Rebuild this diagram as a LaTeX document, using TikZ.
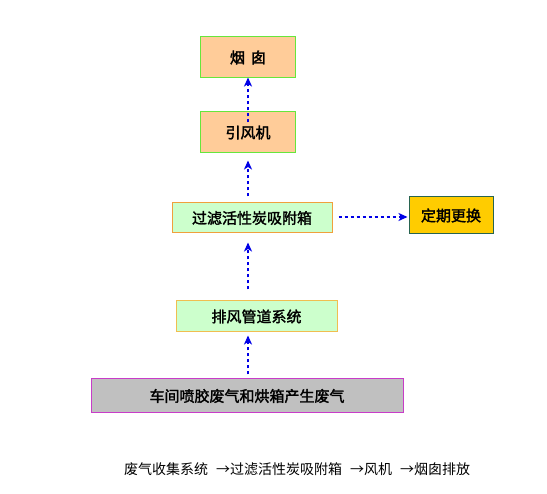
\documentclass[tikz,border=0pt]{standalone}
\usepackage{fontspec}
\newfontfamily\cjk{Noto Sans CJK SC}[AutoFakeBold=2]
\usetikzlibrary{arrows.meta,calc}
\definecolor{peach}{RGB}{255,204,153}
\definecolor{lgreen}{RGB}{204,255,204}
\definecolor{gold}{RGB}{255,204,0}
\definecolor{lgray}{RGB}{192,192,192}
\definecolor{bgreen}{RGB}{102,230,60}
\definecolor{borange}{RGB}{240,160,60}
\definecolor{byellow}{RGB}{240,190,80}
\definecolor{bteal}{RGB}{40,100,80}
\definecolor{bmag}{RGB}{200,60,200}
\definecolor{arrblue}{RGB}{0,0,230}
\tikzset{
  box/.style={draw, line width=1pt, inner sep=0pt, font=\cjk\bfseries\fontsize{15}{15}\selectfont, text=black},
  arr/.style={draw=arrblue, line width=2.8pt, dash pattern=on 3pt off 3pt, -{Stealth[length=9pt,width=8pt,inset=2.5pt]}},
}
\begin{document}
\begin{tikzpicture}[x=1pt,y=-1pt]
\useasboundingbox (0,0) rectangle (547,494);
\node[box, fill=peach, draw=bgreen, minimum width=95pt, minimum height=41pt] (b1) at (248,57.5) {烟\hspace{6pt}囱};
\node[box, fill=peach, draw=bgreen, minimum width=95pt, minimum height=41pt] (b2) at (248,132.5) {引风机};
\node[box, fill=lgreen, draw=borange, minimum width=160pt, minimum height=30pt] (b3) at (252,218) {过滤活性炭吸附箱};
\node[box, fill=gold, draw=bteal, minimum width=84pt, minimum height=37pt] (b4) at (451,215.5) {定期更换};
\node[box, fill=lgreen, draw=byellow, minimum width=161pt, minimum height=31pt] (b5) at (256.5,316.5) {排风管道系统};
\node[box, fill=lgray, draw=bmag, minimum width=312pt, minimum height=34pt] (b6) at (247,396) {车间喷胶废气和烘箱产生废气};
\draw[arr] ($(b2.north)+(0,11)$) -- ($(b1.south)+(0,-1)$);
\draw[arr] ($(b3.north -| b2.south)+(0,-6)$) -- ($(b2.south)+(0,7)$);
\draw[arr] ($(b5.north -| b2.south)+(0,-11)$) -- ($(b3.south -| b2.south)+(0,9)$);
\draw[arr] ($(b6.north -| b2.south)+(0,-4)$) -- ($(b5.south -| b2.south)+(0,3)$);
\draw[arr] ($(b3.east)+(6,-1)$) -- ($(b4.west)+(-1,1.5)$);
\node[anchor=west, inner sep=0pt, font=\cjk\fontsize{14}{14}\selectfont] (cap) at (124,469) {废气收集系统\hspace{8pt}→过滤活性炭吸附箱\hspace{8pt}→风机\hspace{8pt}→烟囱排放};
\end{tikzpicture}
\end{document}
